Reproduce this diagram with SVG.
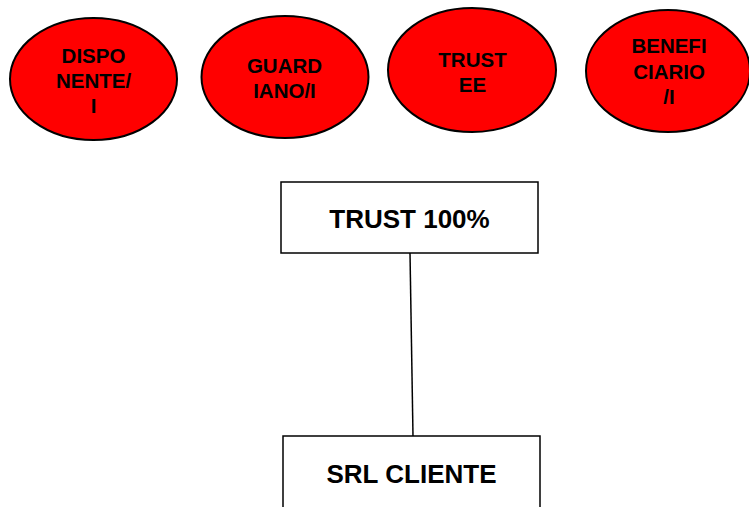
<svg xmlns="http://www.w3.org/2000/svg" width="749" height="507" viewBox="0 0 749 507">
<style>
.ell{fill:#ff0000;stroke:#000;stroke-width:2}
.box{fill:#fff;stroke:#000;stroke-width:1.5}
.t{font-family:"Liberation Sans",Arial,sans-serif;font-weight:bold;fill:#000;text-anchor:middle}
.s{font-size:20.5px}
.b{font-size:26px}
.con{stroke:#000;stroke-width:1.5;fill:none}
</style>
<rect width="749" height="507" fill="#fff"/>
<g id="connectors">
<line class="con" x1="410" y1="253" x2="413" y2="436"/>
</g>
<g id="disponente">
<ellipse class="ell" cx="93.5" cy="79" rx="83.5" ry="61"/>
<text class="t s" x="93.5" y="63">DISPO</text>
<text class="t s" x="93.5" y="87.5">NENTE/</text>
<text class="t s" x="93.5" y="112.5">I</text>
</g>
<g id="guardiano">
<ellipse class="ell" cx="285" cy="77" rx="83.5" ry="61"/>
<text class="t s" x="284.5" y="73">GUARD</text>
<text class="t s" x="284.5" y="98">IANO/I</text>
</g>
<g id="trustee">
<ellipse class="ell" cx="472" cy="70" rx="84" ry="62"/>
<text class="t s" x="472.5" y="67">TRUST</text>
<text class="t s" x="472.5" y="92">EE</text>
</g>
<g id="beneficiario">
<ellipse class="ell" cx="668" cy="71" rx="82" ry="61"/>
<text class="t s" x="669" y="53">BENEFI</text>
<text class="t s" x="669" y="79">CIARIO</text>
<text class="t s" x="669" y="104">/I</text>
</g>
<g id="trust100">
<rect class="box" x="281" y="182" width="257" height="71"/>
<text class="t b" x="409.5" y="228">TRUST 100%</text>
</g>
<g id="srlcliente">
<rect class="box" x="283" y="436" width="257" height="75"/>
<text class="t b" x="411.5" y="483">SRL CLIENTE</text>
</g>
</svg>
